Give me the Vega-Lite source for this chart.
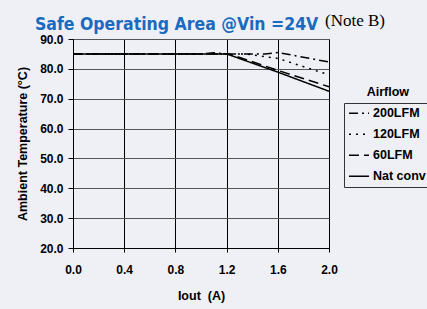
{
  "$schema": "https://vega.github.io/schema/vega-lite/v6.json",
  "width": 256,
  "height": 209,
  "autosize": {"type": "none"},
  "padding": {"left": 73, "top": 39, "right": 98, "bottom": 61},
  "background": "#eef0f6",
  "title": {
    "text": "Safe Operating Area @Vin =24V",
    "anchor": "start",
    "frame": "group",
    "dx": -38,
    "dy": 35,
    "offset": 0,
    "baseline": "alphabetic",
    "font": "'DejaVu Sans Condensed', 'Liberation Sans'",
    "fontWeight": "bold",
    "fontSize": 17.5,
    "color": "#1a6abf"
  },
  "config": {
    "view": {"stroke": "#777777", "strokeWidth": 1},
    "axis": {
      "labelFont": "Liberation Sans",
      "labelFontWeight": "bold",
      "labelFontSize": 12,
      "labelColor": "#000000",
      "labelOverlap": false,
      "titleFont": "Liberation Sans",
      "titleFontWeight": "bold",
      "titleFontSize": 12.5,
      "titleColor": "#000000",
      "domainColor": "#000000",
      "tickColor": "#000000",
      "gridOpacity": 1
    }
  },
  "datasets": {
    "curves": [
      {"iout": 0.0, "temp": 85.0, "airflow": "Nat conv"},
      {"iout": 1.2, "temp": 85.0, "airflow": "Nat conv"},
      {"iout": 1.6, "temp": 78.9, "airflow": "Nat conv"},
      {"iout": 2.0, "temp": 72.5, "airflow": "Nat conv"},
      {"iout": 0.0, "temp": 85.0, "airflow": "60LFM"},
      {"iout": 1.22, "temp": 85.0, "airflow": "60LFM"},
      {"iout": 1.6, "temp": 79.5, "airflow": "60LFM"},
      {"iout": 2.0, "temp": 74.0, "airflow": "60LFM"},
      {"iout": 0.0, "temp": 85.0, "airflow": "120LFM"},
      {"iout": 1.35, "temp": 85.0, "airflow": "120LFM"},
      {"iout": 1.6, "temp": 83.5, "airflow": "120LFM"},
      {"iout": 2.0, "temp": 78.0, "airflow": "120LFM"},
      {"iout": 0.0, "temp": 85.0, "airflow": "200LFM"},
      {"iout": 1.0, "temp": 85.0, "airflow": "200LFM"},
      {"iout": 1.1, "temp": 85.4, "airflow": "200LFM"},
      {"iout": 1.2, "temp": 85.0, "airflow": "200LFM"},
      {"iout": 1.5, "temp": 85.0, "airflow": "200LFM"},
      {"iout": 1.6, "temp": 85.5, "airflow": "200LFM"},
      {"iout": 2.0, "temp": 82.3, "airflow": "200LFM"}
    ],
    "notes": [
      {"label": "(Note B)", "iout": 2.0, "temp": 90.0}
    ],
    "legendTitle": [
      {"label": "Airflow", "iout": 2.46, "temp": 72.35}
    ]
  },
  "encoding": {
    "x": {
      "field": "iout",
      "type": "quantitative",
      "scale": {"domain": [0, 2], "nice": false, "zero": false},
      "axis": {
        "title": "Iout\u00a0\u00a0(A)",
        "values": [0, 0.4, 0.8, 1.2, 1.6, 2.0],
        "format": ".1f",
        "tickSize": 4,
        "labelPadding": 12,
        "titlePadding": 14,
        "gridColor": "#000000",
        "labelFlush": false
      }
    },
    "y": {
      "field": "temp",
      "type": "quantitative",
      "scale": {"domain": [20, 90], "nice": false, "zero": false},
      "axis": {
        "title": "Ambient Temperature (°C)",
        "values": [20, 30, 40, 50, 60, 70, 80, 90],
        "format": ".1f",
        "tickSize": 5,
        "labelPadding": 5,
        "labelOverlap": false,
        "titlePadding": 10,
        "gridColor": "#555555",
        "labelFlush": false
      }
    }
  },
  "layer": [
    {
      "data": {"name": "curves"},
      "mark": {"type": "line", "color": "#000000", "strokeWidth": 1.5},
      "encoding": {
        "strokeDash": {
          "field": "airflow",
          "type": "nominal",
          "scale": {
            "domain": ["200LFM", "120LFM", "60LFM", "Nat conv"],
            "range": [[9, 4, 2, 4], [2, 5], [10, 5], [1, 0]]
          },
          "legend": {
            "title": null,
            "orient": "none",
            "legendX": 271,
            "legendY": 64,
            "padding": 4,
            "strokeColor": "#333333",
            "fillColor": "#eef0f6",
            "symbolType": "stroke",
            "symbolSize": 400,
            "symbolStrokeColor": "#000000",
            "symbolStrokeWidth": 1.5,
            "labelFont": "Liberation Sans",
            "labelFontWeight": "bold",
            "labelFontSize": 12.5,
            "labelColor": "#000000",
            "labelOffset": 3,
            "rowPadding": 8,
            "clipHeight": 12.5
          }
        }
      }
    },
    {
      "data": {"name": "notes"},
      "mark": {"type": "text", "align": "left", "baseline": "alphabetic", "dx": -4, "dy": -13, "font": "Liberation Serif", "fontSize": 17, "color": "#000000"},
      "encoding": {
        "text": {"field": "label"}
      }
    },
    {
      "data": {"name": "legendTitle"},
      "mark": {"type": "text", "align": "center", "baseline": "middle", "font": "Liberation Sans", "fontWeight": "bold", "fontSize": 12.5, "color": "#000000"},
      "encoding": {
        "text": {"field": "label"}
      }
    }
  ]
}
